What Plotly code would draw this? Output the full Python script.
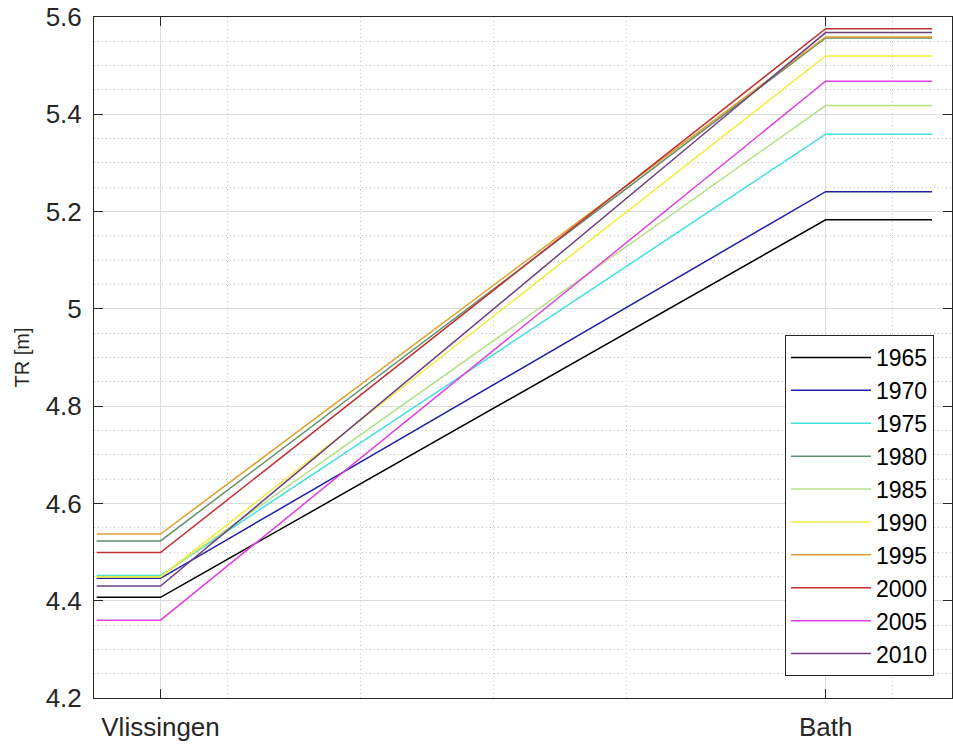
import plotly.graph_objects as go

# Tidal range (TR) per station, one value per year
years = ["1965", "1970", "1975", "1980", "1985", "1990", "1995", "2000", "2005", "2010"]
tr_vlissingen = [4.407, 4.446, 4.452, 4.523, 4.450, 4.449, 4.537, 4.499, 4.360, 4.430]
tr_bath = [5.183, 5.241, 5.359, 5.557, 5.418, 5.520, 5.559, 5.576, 5.468, 5.568]

# Along-channel distance (km); profile held flat beyond the two stations
x_km = [0.2, 5, 55, 63]
station_km = [5, 55]
station_names = ["Vlissingen", "Bath"]
minor_km = [10, 20, 30, 40, 60]

colors = ["#000000", "#1f1fa8", "#3fe0e0", "#5f8f6f", "#b4e284",
          "#f2ee3a", "#e0a030", "#c03030", "#e040e0", "#6f3f7f"]

fig = go.Figure()
for yr, v, b, c in zip(years, tr_vlissingen, tr_bath, colors):
    fig.add_trace(go.Scatter(
        x=x_km, y=[v, v, b, b], mode="lines", name=yr,
        line=dict(color=c, width=1.5),
    ))

axis_col = "#262626"
font = "Liberation Sans, Arial, sans-serif"

fig.update_layout(
    width=953, height=746,
    margin=dict(l=94, r=1, t=17, b=48),
    plot_bgcolor="white", paper_bgcolor="white",
    font=dict(family=font, color=axis_col),
    showlegend=True,
    legend=dict(
        x=0.979, y=0.0323, xanchor="right", yanchor="bottom",
        bgcolor="white", bordercolor=axis_col, borderwidth=1,
        font=dict(size=23, family=font, color="#000000"),
        itemwidth=80, tracegroupgap=0,
    ),
)

fig.update_xaxes(
    range=[0, 64.5],
    tickmode="array", tickvals=station_km, ticktext=station_names,
    tickfont=dict(size=26, family=font, color=axis_col),
    ticks="inside", ticklen=9, tickcolor=axis_col, ticklabelstandoff=6,
    showline=True, linecolor=axis_col, linewidth=1, mirror="ticks",
    showgrid=True, gridcolor="#dcdcdc", gridwidth=1,
    zeroline=False,
    minor=dict(tickmode="array", tickvals=minor_km, showgrid=True,
               gridcolor="#c8c8c8", gridwidth=1, griddash="1px,3px", ticks=""),
)

fig.update_yaxes(
    range=[4.2, 5.6],
    tickmode="array", tickvals=[4.2, 4.4, 4.6, 4.8, 5.0, 5.2, 5.4, 5.6],
    ticktext=["4.2", "4.4", "4.6", "4.8", "5", "5.2", "5.4", "5.6"],
    tickfont=dict(size=26, family=font, color=axis_col),
    ticks="inside", ticklen=9, tickcolor=axis_col, ticklabelstandoff=6,
    showline=True, linecolor=axis_col, linewidth=1, mirror="ticks",
    showgrid=True, gridcolor="#dcdcdc", gridwidth=1,
    zeroline=False,
    minor=dict(dtick=0.05, tick0=4.2, showgrid=True,
               gridcolor="#c8c8c8", gridwidth=1, griddash="1px,3px", ticks=""),
    title=dict(text="TR [m]", font=dict(size=20, family=font, color=axis_col), standoff=10),
)

fig.write_html("out.html")
